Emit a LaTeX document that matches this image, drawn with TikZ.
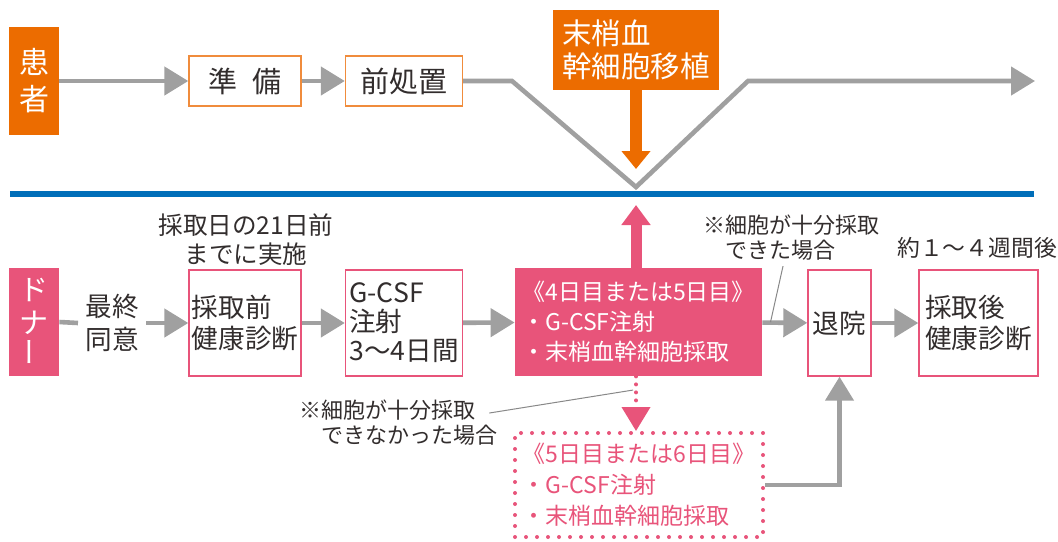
\documentclass[tikz,border=0pt]{standalone}
\usepackage{fontspec}
\setmainfont{Noto Sans CJK JP}
\usepackage{graphicx}
\usepackage{tikz}
\usetikzlibrary{arrows.meta, calc}
\definecolor{ptorange}{RGB}{236, 108, 0}
\definecolor{ptorangeline}{RGB}{240, 140, 60}
\definecolor{dnpink}{RGB}{232, 84, 122}
\definecolor{flowgray}{RGB}{160, 160, 160}
\definecolor{sepblue}{RGB}{0, 110, 185}
\definecolor{txtgray}{RGB}{50, 45, 45}

\tikzset{
  ptbox/.style={draw=ptorangeline, line width=0.7pt, text=txtgray, inner sep=0pt, minimum height=25pt, font=\fontsize{14.5}{16}\selectfont},
  dnbox/.style={draw=dnpink, line width=0.7pt, text=txtgray, inner sep=0pt, align=left, minimum height=53pt, font=\fontsize{13.3}{15.5}\selectfont},
  tagbox/.style={fill=#1, text=white, inner sep=0pt, align=center, minimum width=25pt, minimum height=54pt},
  note/.style={text=txtgray, inner sep=0pt, font=\fontsize{11}{12.5}\selectfont},
  flow/.style={draw=flowgray, line width=2.3pt, -{Triangle[length=12pt, width=14pt]}},
  leader/.style={draw=flowgray!85!black, line width=0.5pt},
  dotline/.style={line width=2pt, line cap=round, dash pattern=on 0pt off 5.5pt},
}

\begin{document}
\begin{tikzpicture}[x=0.5pt, y=-0.5pt]
  \useasboundingbox (0,0) rectangle (1058,541);

  % Patient
  \node[tagbox=ptorange, font=\fontsize{15}{18.5}\selectfont] (patient) at (34,81) {患\\者};
  \node[ptbox, minimum width=56pt] (prep) at (245,81) {準\hspace{0.55em}備};
  \node[ptbox, minimum width=58.5pt] (precond) at (404,81) {前処置};
  \node[fill=ptorange, text=white, inner sep=0pt, align=left, minimum width=83pt, minimum height=40pt,
        font=\fontsize{14.7}{16.5}\selectfont] (transplant) at (636,50) {末梢血\\幹細胞移植};
  \coordinate (vleft) at (512,81);
  \coordinate (vbot) at (636,187);
  \coordinate (vright) at (748,81);
  \coordinate (ptend) at (1035,81);
  \coordinate (ttip) at (636,169);

  \draw[flow] (patient) -- (prep);
  \draw[flow] (prep) -- (precond);
  \draw[flow] (precond.east) -- (vleft) -- (vbot) -- (vright) -- (ptend);
  \draw[draw=ptorange, line width=6pt, -{Triangle[length=9pt, width=14pt]}] (transplant.south -| ttip) -- (ttip);

  % Separator
  \draw[sepblue, line width=2.8pt] (10,194) -- (1034,194);

  % Donor
  \node[tagbox=dnpink, font=\fontsize{14.5}{16.5}\selectfont] (donor) at (34,322) {ド\\ナ\\\rotatebox{90}{ー}};
  \node[note, inner sep=3.5pt, align=center, font=\fontsize{13.3}{16.5}\selectfont] (consent) at (112,323) {最終\\同意};
  \node[dnbox, minimum width=56pt] (precheck) at (245,323) {採取前\\健康診断};
  \node[dnbox, minimum width=58.5pt, font=\fontsize{13.3}{14.5}\selectfont] (gcsf) at (404,323) {G-CSF\\注射\\3～4日間};
  \node[fill=dnpink, text=white, inner sep=0pt, align=left, minimum width=123.5pt, minimum height=54pt,
        font=\fontsize{11.5}{15}\selectfont] (collect) at (638.5,322) {《4日目または5日目》\\・G-CSF注射\\・末梢血幹細胞採取};
  \node[dnbox, minimum width=31.5pt, align=center] (discharge) at (839.5,323) {退院};
  \node[dnbox, minimum width=59.5pt] (postcheck) at (978.5,323) {採取後\\健康診断};
  \node[draw=dnpink, dotline, text=dnpink, inner sep=0pt, align=left, minimum width=124pt, minimum height=52pt,
        font=\fontsize{11.5}{15.5}\selectfont] (recollect) at (639,485) {《5日目または6日目》\\・G-CSF注射\\・末梢血幹細胞採取};

  % Notes
  \node[note, align=center, font=\fontsize{12.3}{14.5}\selectfont] (schedNote) at (246,240) {採取日の21日前\\までに実施};
  \node[note, align=left] (okNote) at (791,238) {※細胞が十分採取\\\hspace*{1em}できた場合};
  \node[note, font=\fontsize{11.4}{12.5}\selectfont] (weekNote) at (977,248) {約１～４週間後};
  \node[note, align=left] (ngNote) at (398,423) {※細胞が十分採取\\\hspace*{1em}できなかった場合};

  \coordinate (ptip) at (636,205);
  \draw[flow, -] (donor.east) -- (consent.west);
  \draw[flow] (consent) -- (precheck);
  \draw[flow] (precheck) -- (gcsf);
  \draw[flow] (gcsf) -- (collect);
  \draw[flow] (collect) -- (discharge);
  \draw[flow] (discharge) -- (postcheck);
  \draw[flow] (recollect.east) -| (discharge.south);
  \draw[draw=dnpink, line width=5.5pt, -{Triangle[length=10pt, width=14pt]}] (collect.north -| ptip) -- (ptip);
  \draw[draw=dnpink, dotline, dash pattern=on 0pt off 4pt, -{Triangle[length=12pt, width=14pt]}] (collect.south -| vbot) -- (recollect.north -| vbot);

  % Leaders
  \draw[leader] ($(okNote.south)+(-8,5)$) -- ($(collect.east)!0.18!(discharge.west)$);
  \draw[leader] ($(ngNote.east)+(-8,-10)$) -- ($(collect.south -| vbot)!0.25!(recollect.north -| vbot)+(-3,0)$);
\end{tikzpicture}
\end{document}
